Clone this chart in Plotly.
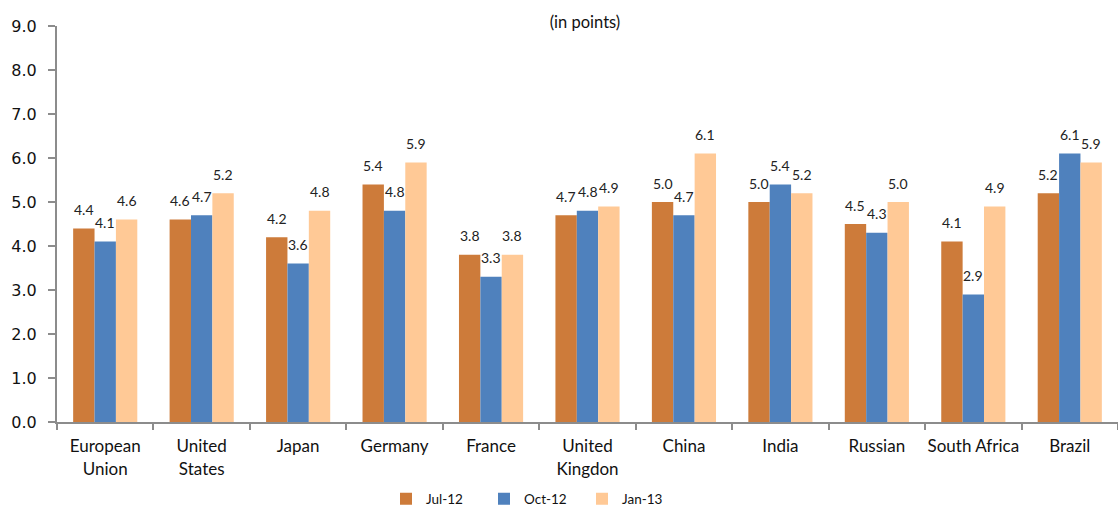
import plotly.graph_objects as go

# Sentiment scores by economy (in points)
countries = ["European<br>Union", "United<br>States", "Japan", "Germany", "France",
             "United<br>Kingdon", "China", "India", "Russian", "South Africa", "Brazil"]
series_names = ["Jul-12", "Oct-12", "Jan-13"]
jul_12 = [4.4, 4.6, 4.2, 5.4, 3.8, 4.7, 5.0, 5.0, 4.5, 4.1, 5.2]
oct_12 = [4.1, 4.7, 3.6, 4.8, 3.3, 4.8, 4.7, 5.4, 4.3, 2.9, 6.1]
jan_13 = [4.6, 5.2, 4.8, 5.9, 3.8, 4.9, 6.1, 5.2, 5.0, 4.9, 5.9]
y_ticks = [0, 1, 2, 3, 4, 5, 6, 7, 8, 9]

colors = ["#CD7B3A", "#4F81BD", "#FFC996"]
series_values = [jul_12, oct_12, jan_13]

W, H = 1118, 510
M = dict(l=57, r=0, t=26, b=88)
BARGAP = 0.335
AXIS_GRAY = "#8C8C8C"
TEXT_FONT = "Lato, 'Open Sans', sans-serif"

fig = go.Figure()
for name, vals, col in zip(series_names, series_values, colors):
    fig.add_trace(go.Bar(
        name=name, x=countries, y=vals,
        marker=dict(color=col, line=dict(width=0)),
    ))

# value labels above each bar, shifted to sit over its own bar in the group
plot_w = W - M["l"] - M["r"]
bar_w = plot_w / len(countries) * (1 - BARGAP) / len(series_values)
annotations = []
for i, vals in enumerate(series_values):
    for c, v in zip(countries, vals):
        annotations.append(dict(
            x=c, y=v, xref="x", yref="y", text=f"{v:.1f}",
            showarrow=False, xshift=(i - 1) * bar_w, yshift=19,
            yanchor="middle", xanchor="center",
            font=dict(family=TEXT_FONT, size=14, color="#222222"),
        ))

fig.update_layout(
    width=W, height=H, margin=M,
    paper_bgcolor="white", plot_bgcolor="white",
    barmode="group", bargap=BARGAP, bargroupgap=0,
    annotations=annotations,
    title=dict(
        text="(in points)", x=585 / W, y=1 - 22 / H,
        xref="container", yref="container",
        xanchor="center", yanchor="middle",
        font=dict(family=TEXT_FONT, size=16.5, color="#111111"),
    ),
    showlegend=True,
    legend=dict(
        orientation="h", xref="container", yref="container",
        x=386 / W, xanchor="left", y=11 / H, yanchor="middle",
        font=dict(family=TEXT_FONT, size=13.5, color="#111111"),
        entrywidth=53, entrywidthmode="pixels",
        traceorder="normal",
    ),
    xaxis=dict(
        showline=True, linecolor=AXIS_GRAY, linewidth=2,
        ticks="outside", tickson="boundaries", ticklen=6,
        tickcolor=AXIS_GRAY, tickwidth=2, tickangle=0,
        tickfont=dict(family=TEXT_FONT, size=17, color="#111111"),
        showgrid=False, ticklabelstandoff=8, automargin=False,
    ),
    yaxis=dict(
        range=[0, 9], tickvals=y_ticks, tickformat=".1f",
        showline=True, linecolor=AXIS_GRAY, linewidth=2,
        ticks="outside", ticklen=7, tickcolor=AXIS_GRAY, tickwidth=2,
        tickfont=dict(family="DejaVu Sans", size=16, color="#111111"),
        showgrid=False, zeroline=False, ticklabelstandoff=8, automargin=False,
    ),
)

fig.write_html("out.html")
